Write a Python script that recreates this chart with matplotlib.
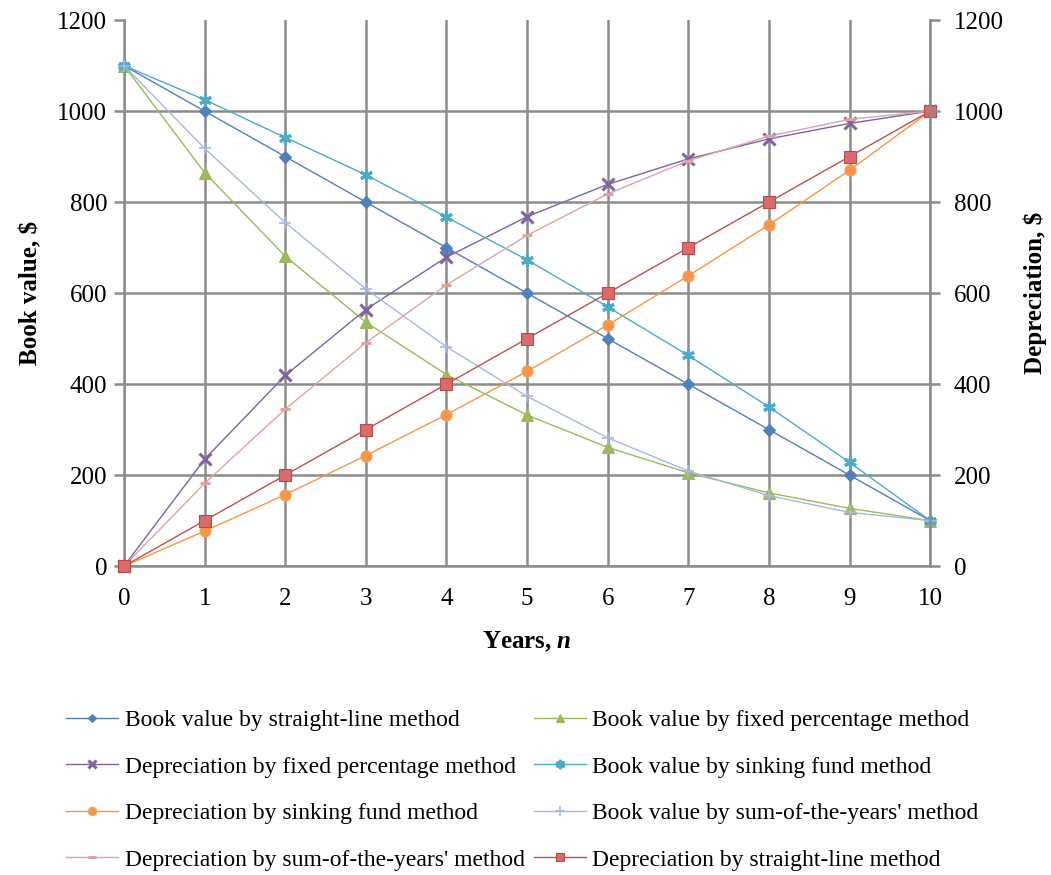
import numpy as np
import matplotlib.pyplot as plt

plt.rcParams['font.family'] = ['Liberation Serif', 'DejaVu Serif']
plt.rcParams['mathtext.fontset'] = 'custom'
plt.rcParams['mathtext.bf'] = 'Liberation Serif:bold'
plt.rcParams['mathtext.it'] = 'Liberation Serif:italic:bold'

years = np.arange(0, 11)

# values
book_straight = [1100, 1000, 900, 800, 700, 600, 500, 400, 300, 200, 100]
book_fixed = [1100, 865, 681, 536, 421, 332, 261, 205, 161, 127, 100]
dep_fixed = [0, 235, 419, 564, 679, 768, 839, 895, 939, 973, 1000]
book_sinking = [1100, 1025, 942, 860, 767, 673, 570, 463, 350, 228, 100]
dep_sinking = [0, 77, 157, 243, 333, 428, 530, 638, 750, 870, 1000]
book_soy = [1100, 918, 755, 609, 482, 373, 282, 209, 155, 118, 100]
dep_soy = [0, 182, 345, 491, 618, 727, 818, 891, 945, 982, 1000]
dep_straight = [0, 100, 200, 300, 400, 500, 600, 700, 800, 900, 1000]

x_ticks = list(range(0, 11))
y_ticks = [0, 200, 400, 600, 800, 1000, 1200]

fig = plt.figure(figsize=(10.51, 8.75), dpi=100)
ax = fig.add_axes([0.118, 0.353, 0.767, 0.624])

# (label, data, color, marker, markersize, z)
series = [
    ("Book value by straight-line method", book_straight, '#4F81BD', 'D', 6, 3),
    ("Book value by fixed percentage method", book_fixed, '#9BBB59', '^', 8, 3),
    ("Depreciation by fixed percentage method", dep_fixed, '#8064A2', 'x', 8, 3),
    ("Book value by sinking fund method", book_sinking, '#4BACC6', (6, 2, 0), 9, 3),
    ("Depreciation by sinking fund method", dep_sinking, '#F79646', 'o', 8, 3),
    ("Book value by sum-of-the-years' method", book_soy, '#A7B9DF', '+', 9, 3),
    ("Depreciation by sum-of-the-years' method", dep_soy, '#DDA4A3', '_', 7, 3),
    ("Depreciation by straight-line method", dep_straight, '#C0504D', 's', 8, 4),
]

handles = {}
for label, vals, col, mk, ms, z in series:
    mew = 2.2 if mk in ('x', '_') or isinstance(mk, tuple) else 0.8
    if mk == '+':
        mew = 1.2
    edge = col
    face = col
    if mk == 's':
        face = '#D96C6A'
        edge = '#B94A48'
    if mk == 'o':
        edge = '#F5A25A'
    line, = ax.plot(years, vals, color=col, lw=1.0, marker=mk, ms=ms,
                    mfc=face, mec=edge, mew=mew, zorder=z,
                    clip_on=False, label=label)
    handles[label] = line

ax.set_xlim(0, 10)
ax.set_ylim(0, 1200)
ax.set_xticks(x_ticks)
ax.set_yticks(y_ticks)
ax.grid(True, color='#8C8C8C', lw=1.8)
ax.set_axisbelow(True)
ax.get_ygridlines()[-1].set_visible(False)
for s in ['top', 'right']:
    ax.spines[s].set_visible(False)
for s in ['left', 'bottom']:
    ax.spines[s].set_color('#8C8C8C')
    ax.spines[s].set_linewidth(1.8)
ax.tick_params(axis='y', direction='out', length=7, width=1.8, color='#8C8C8C',
               labelsize=18, pad=5)
ax.tick_params(axis='x', length=0, labelsize=18, pad=16)

ax2 = ax.twinx()
ax2.set_ylim(0, 1200)
ax2.set_yticks(y_ticks)
for s in ['top', 'left', 'bottom']:
    ax2.spines[s].set_visible(False)
ax2.spines['right'].set_color('#8C8C8C')
ax2.spines['right'].set_linewidth(1.8)
ax2.tick_params(direction='out', length=7, width=1.8, color='#8C8C8C',
                labelsize=18, pad=10)

ax.set_xlabel(r'Years, $\mathit{n}$', fontsize=18, fontweight='bold', labelpad=14)
ax.set_ylabel('Book value, $', fontsize=18, fontweight='bold', labelpad=11)
ax2.set_ylabel('Depreciation, $', fontsize=18, fontweight='bold', labelpad=14)

order = [0, 2, 4, 6, 1, 3, 5, 7]
leg_handles = [handles[series[i][0]] for i in order]
leg_labels = [series[i][0] for i in order]
fig.legend(leg_handles, leg_labels, loc='upper left', bbox_to_anchor=(0.054, 0.2),
           ncol=2, frameon=False, fontsize=17, handlelength=2.2,
           handletextpad=0.28, columnspacing=0.38, labelspacing=1.06,
           borderaxespad=0, markerscale=0.75)

fig.savefig('out.png', dpi=100)
